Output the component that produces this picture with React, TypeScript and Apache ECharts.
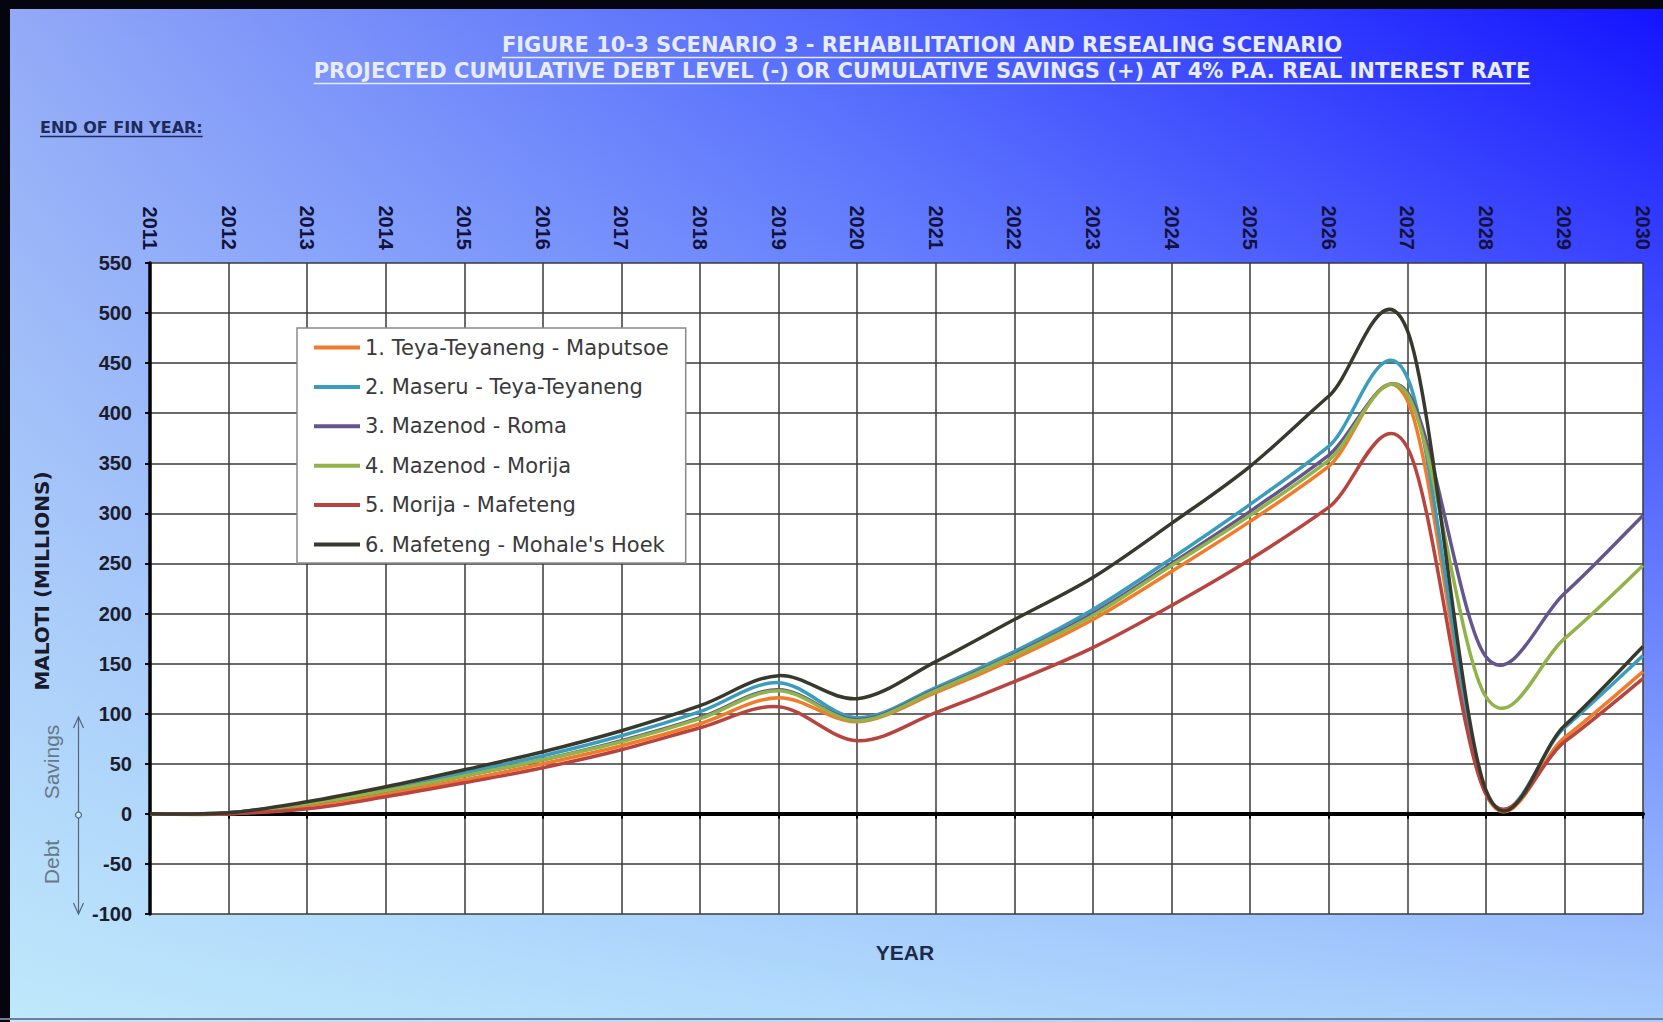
import React, { useEffect, useRef } from "react";
import * as echarts from "echarts";

// End of financial year
const YEARS = [
  "2011", "2012", "2013", "2014", "2015", "2016", "2017", "2018", "2019", "2020",
  "2021", "2022", "2023", "2024", "2025", "2026", "2027", "2028", "2029", "2030",
];

// Cumulative savings (+) / debt (-), Maloti millions
const TEYA_MAPUTSOE = [0, 0, 8, 20, 34, 50, 68, 90, 116, 92, 121, 155, 194, 242, 292, 347, 413, 20, 76, 142];
const MASERU_TEYA = [0, 1, 11, 25, 41, 58, 78, 102, 131, 96, 126, 162, 204, 255, 309, 367, 436, 22, 86, 158];
const MAZENOD_ROMA = [0, 1, 10, 23, 38, 54, 73, 96, 124, 94, 124, 159, 200, 250, 302, 358, 421, 157, 220, 298];
const MAZENOD_MORIJA = [0, 1, 10, 23, 38, 54, 72, 95, 123, 93, 123, 158, 198, 248, 298, 353, 419, 117, 175, 248];
const MORIJA_MAFETENG = [0, 0, 5, 17, 31, 46, 64, 86, 107, 73, 101, 132, 166, 208, 254, 306, 366, 20, 72, 135];
const MAFETENG_MOHALES = [0, 1, 12, 27, 44, 62, 83, 108, 138, 115, 152, 194, 236, 290, 347, 417, 483, 24, 88, 167];

const SERIES_NAMES = [
  "1. Teya-Teyaneng - Maputsoe",
  "2. Maseru - Teya-Teyaneng",
  "3. Mazenod - Roma",
  "4. Mazenod - Morija",
  "5. Morija - Mafeteng",
  "6. Mafeteng - Mohale's Hoek",
];
const SERIES_VALUES = [TEYA_MAPUTSOE, MASERU_TEYA, MAZENOD_ROMA, MAZENOD_MORIJA, MORIJA_MAFETENG, MAFETENG_MOHALES];
const SERIES_COLORS = ["#F27B2B", "#3A9DBB", "#65558F", "#90B34A", "#B8443F", "#38392C"];

const Y_MIN = -100;
const Y_MAX = 550;
const Y_STEP = 50;

const TITLE_LINE_1 = "FIGURE 10-3 SCENARIO 3 - REHABILITATION AND RESEALING SCENARIO";
const TITLE_LINE_2 =
  "PROJECTED CUMULATIVE DEBT LEVEL (-) OR CUMULATIVE SAVINGS (+) AT 4% P.A. REAL INTEREST RATE";
const SUBHEAD = "END OF FIN YEAR:";
const Y_NAME = "MALOTI (MILLIONS)";
const X_NAME = "YEAR";

const W = 1663;
const H = 1022;
const FONT = '"Liberation Sans", Arial, sans-serif';
const WIDE_FONT = '"DejaVu Sans", "Liberation Sans", sans-serif';

function measure(text: string, font: string): number {
  const ctx = document.createElement("canvas").getContext("2d");
  if (!ctx) return text.length * 10;
  ctx.font = font;
  return ctx.measureText(text).width;
}

function underlinedText(text: string, cx: number, cy: number, size: number, color: string, align: "center" | "left") {
  const font = `bold ${size}px ${WIDE_FONT}`;
  const w = measure(text, font);
  const x0 = align === "center" ? cx - w / 2 : cx;
  return [
    {
      type: "text",
      x: cx,
      y: cy,
      z: 50,
      style: { text, fill: color, font, textAlign: align, textVerticalAlign: "middle" },
    },
    {
      type: "line",
      z: 50,
      shape: { x1: x0, y1: cy + size * 0.6, x2: x0 + w, y2: cy + size * 0.6 },
      style: { stroke: color, lineWidth: 1.5 },
    },
  ];
}

// Smoothed line through the points, spreadsheet style: cubic segments whose
// control points sit one sixth of the neighbour-to-neighbour chord away.
function smoothPath(pts: number[][]): string {
  const n = pts.length;
  const p = (i: number) => pts[Math.max(0, Math.min(n - 1, i))];
  let d = `M${pts[0][0]},${pts[0][1]}`;
  for (let i = 0; i < n - 1; i++) {
    const p0 = p(i - 1);
    const p1 = p(i);
    const p2 = p(i + 1);
    const p3 = p(i + 2);
    const c1x = p1[0] + (p2[0] - p0[0]) / 6;
    const c1y = p1[1] + (p2[1] - p0[1]) / 6;
    const c2x = p2[0] - (p3[0] - p1[0]) / 6;
    const c2y = p2[1] - (p3[1] - p1[1]) / 6;
    d += ` C${c1x},${c1y} ${c2x},${c2y} ${p2[0]},${p2[1]}`;
  }
  return d;
}

export default function App() {
  const ref = useRef<HTMLDivElement>(null);

  useEffect(() => {
    if (!ref.current) return;
    const chart = echarts.init(ref.current, null, { renderer: "svg" });

    const arrowX = 78.5;
    const arrowTop = 717;
    const arrowBottom = 914;
    const arrowColor = "#55657A";

    const series: any[] = SERIES_NAMES.map((name, si) => ({
      name,
      type: "custom",
      coordinateSystem: "cartesian2d",
      xAxisIndex: 0,
      yAxisIndex: 0,
      data: SERIES_VALUES[si].map((v, i) => [i, v]),
      encode: { x: 0, y: 1 },
      color: SERIES_COLORS[si],
      itemStyle: { color: SERIES_COLORS[si] },
      z: 3 + si,
      silent: true,
      renderItem: (params: any, api: any) => {
        if (params.dataIndex !== 0) return null;
        const pts = SERIES_VALUES[si].map((v, i) => api.coord([i, v]));
        return {
          type: "path",
          shape: { pathData: smoothPath(pts) },
          style: { stroke: SERIES_COLORS[si], lineWidth: 3.5, fill: "none", lineJoin: "round" },
        };
      },
    }));

    const option: any = {
      animation: false,
      backgroundColor: new echarts.graphic.LinearGradient(0, 0, 1, 0, [
        { offset: 0, color: "#93AAF7" },
        { offset: 0.5, color: "#5066FD" },
        { offset: 1, color: "#1212FF" },
      ]),
      grid: {
        left: 150,
        right: 20,
        top: 263,
        bottom: 108,
        show: true,
        backgroundColor: "#FFFFFF",
        borderWidth: 0,
      },
      legend: {
        orient: "vertical",
        left: 297,
        top: 328,
        data: SERIES_NAMES,
        icon: "rect",
        itemWidth: 46,
        itemHeight: 4,
        itemGap: 18.4,
        padding: [9, 17, 8, 17],
        backgroundColor: "#FFFFFF",
        borderColor: "#8A8A8A",
        borderWidth: 1.5,
        textStyle: { fontFamily: WIDE_FONT, fontSize: 21, color: "#3A3A3A", lineHeight: 20 },
      },
      xAxis: [
        {
          type: "category",
          data: YEARS,
          position: "top",
          boundaryGap: false,
          axisLine: { show: false, onZero: false },
          axisTick: { show: false },
          axisLabel: {
            rotate: 90,
            margin: 13,
            fontFamily: FONT,
            fontSize: 20,
            fontWeight: "bold",
            color: "#12123A",
          },
          splitLine: { show: true, lineStyle: { color: "#3A3A3A", width: 1.5 } },
        },
        {
          // zero line across the plot
          type: "category",
          data: YEARS,
          position: "bottom",
          boundaryGap: false,
          axisLine: { show: true, onZero: true, onZeroAxisIndex: 0, lineStyle: { color: "#000000", width: 4 } },
          axisTick: { show: true, length: 5, lineStyle: { color: "#000000", width: 2 } },
          axisLabel: { show: false },
          splitLine: { show: false },
        },
      ],
      yAxis: {
        type: "value",
        min: Y_MIN,
        max: Y_MAX,
        interval: Y_STEP,
        axisLine: { show: true, onZero: false, lineStyle: { color: "#000000", width: 3.5 } },
        axisTick: { show: true, length: 5, lineStyle: { color: "#000000", width: 2 } },
        axisLabel: {
          margin: 18,
          fontFamily: FONT,
          fontSize: 20,
          fontWeight: "bold",
          color: "#1C1C2C",
        },
        splitLine: { show: true, lineStyle: { color: "#3A3A3A", width: 1.5 } },
      },
      series,
      graphic: [
        // soft cyan wash towards the bottom of the page
        {
          type: "rect",
          z: -1,
          silent: true,
          shape: { x: 0, y: 0, width: W, height: H },
          style: {
            fill: new echarts.graphic.LinearGradient(0, 0, 0, 1, [
              { offset: 0, color: "rgba(200,246,252,0)" },
              { offset: 0.45, color: "rgba(200,246,252,0.36)" },
              { offset: 1, color: "rgba(200,246,252,0.82)" },
            ]),
          },
        },
        // frame
        { type: "rect", z: 100, silent: true, shape: { x: 0, y: 0, width: W, height: 9 }, style: { fill: "#050510" } },
        { type: "rect", z: 100, silent: true, shape: { x: 0, y: 0, width: 10, height: H }, style: { fill: "#050510" } },
        { type: "rect", z: 100, silent: true, shape: { x: 0, y: H - 4, width: W, height: 2 }, style: { fill: "#6F7F95" } },
        // titles
        ...underlinedText(TITLE_LINE_1, 922, 45, 21, "#E8ECFF", "center"),
        ...underlinedText(TITLE_LINE_2, 922, 71, 21, "#E8ECFF", "center"),
        ...underlinedText(SUBHEAD, 40, 127, 16, "#1E2A5A", "left"),
        // axis titles
        {
          type: "text",
          x: 42,
          y: 581,
          rotation: Math.PI / 2,
          z: 50,
          style: {
            text: Y_NAME,
            fill: "#1A1A2A",
            font: `bold 20px ${WIDE_FONT}`,
            textAlign: "center",
            textVerticalAlign: "middle",
          },
        },
        {
          type: "text",
          x: 905,
          y: 952,
          z: 50,
          style: {
            text: X_NAME,
            fill: "#1E2A4A",
            font: `bold 21px ${FONT}`,
            textAlign: "center",
            textVerticalAlign: "middle",
          },
        },
        // savings / debt direction marker
        {
          type: "text",
          x: 51,
          y: 762,
          rotation: Math.PI / 2,
          z: 50,
          style: {
            text: "Savings",
            fill: "#687888",
            font: `21px ${FONT}`,
            textAlign: "center",
            textVerticalAlign: "middle",
          },
        },
        {
          type: "text",
          x: 51,
          y: 862,
          rotation: Math.PI / 2,
          z: 50,
          style: {
            text: "Debt",
            fill: "#687888",
            font: `21px ${FONT}`,
            textAlign: "center",
            textVerticalAlign: "middle",
          },
        },
        {
          type: "line",
          z: 50,
          shape: { x1: arrowX, y1: arrowTop, x2: arrowX, y2: arrowBottom },
          style: { stroke: arrowColor, lineWidth: 1.2 },
        },
        {
          type: "polyline",
          z: 50,
          shape: { points: [[arrowX - 5, arrowTop + 11], [arrowX, arrowTop], [arrowX + 5, arrowTop + 11]] },
          style: { stroke: arrowColor, lineWidth: 1.2, fill: "none" },
        },
        {
          type: "polyline",
          z: 50,
          shape: { points: [[arrowX - 5, arrowBottom - 11], [arrowX, arrowBottom], [arrowX + 5, arrowBottom - 11]] },
          style: { stroke: arrowColor, lineWidth: 1.2, fill: "none" },
        },
        {
          type: "circle",
          z: 51,
          shape: { cx: arrowX, cy: 815, r: 3 },
          style: { stroke: arrowColor, lineWidth: 1.2, fill: "#C4EEFA" },
        },
      ],
    };

    chart.setOption(option);
    return () => chart.dispose();
  }, []);

  return <div ref={ref} style={{ position: "fixed", left: 0, top: 0, width: W, height: H }} />;
}
